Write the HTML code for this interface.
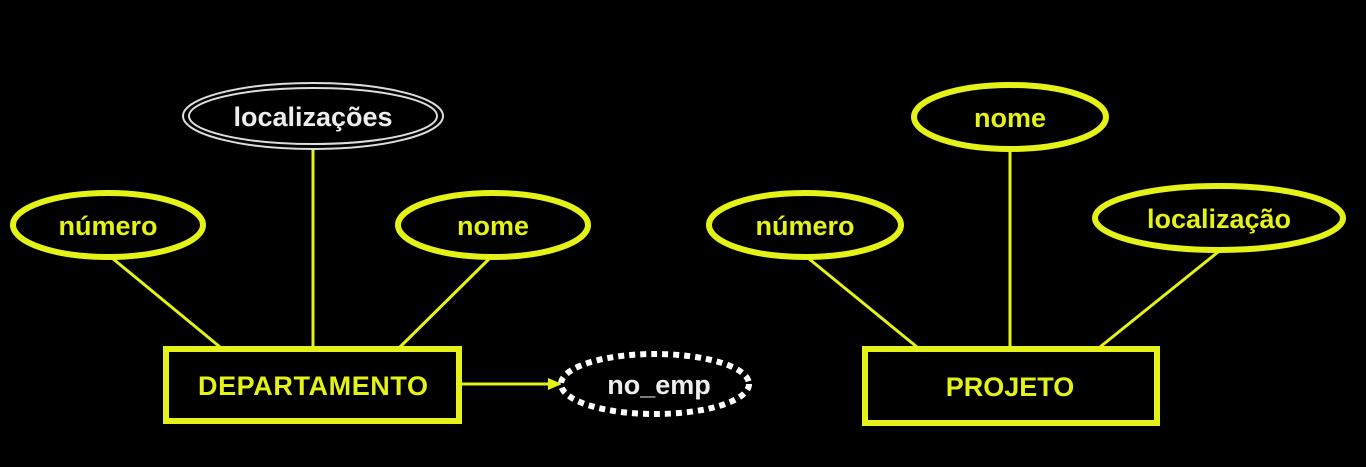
<!DOCTYPE html>
<html><head><style>
html,body{margin:0;padding:0;background:#000;width:1366px;height:467px;overflow:hidden}
text{font-family:"Liberation Sans",sans-serif;font-weight:bold;font-size:27px;text-anchor:middle;dominant-baseline:central}
</style></head><body>
<svg width="1366" height="467" viewBox="0 0 1366 467" xmlns="http://www.w3.org/2000/svg">
<g stroke="#e4f218" stroke-width="3" fill="none">
<line x1="112" y1="258" x2="220" y2="347"/>
<line x1="313" y1="148" x2="313" y2="347"/>
<line x1="490" y1="258" x2="400" y2="347"/>
<line x1="461" y1="384" x2="550" y2="384"/>
<line x1="808" y1="258" x2="917" y2="347"/>
<line x1="1010" y1="150" x2="1010" y2="347"/>
<line x1="1218" y1="252" x2="1100" y2="347"/>
</g>
<polygon points="548,378 562,384 548,390" fill="#e4f218"/>
<g stroke="#e4f218" stroke-width="6" fill="#000">
<ellipse cx="108" cy="225" rx="95" ry="32"/>
<ellipse cx="493" cy="225" rx="95" ry="32"/>
<ellipse cx="1010" cy="117" rx="96" ry="32"/>
<ellipse cx="805" cy="225" rx="96" ry="32"/>
<ellipse cx="1219" cy="218" rx="124" ry="32"/>
<rect x="166" y="349" width="293" height="72"/>
<rect x="865" y="349" width="292" height="74"/>
</g>
<ellipse cx="313" cy="116" rx="130" ry="33" stroke="#ddd" stroke-width="2" fill="#000"/>
<ellipse cx="313" cy="116" rx="124" ry="28" stroke="#ddd" stroke-width="2" fill="none"/>
<ellipse cx="655" cy="384" rx="94" ry="30" stroke="#fff" stroke-width="6" stroke-dasharray="6 5" fill="#000"/>
<g fill="#e4f218" style="font-size:26px">
<text x="108" y="226">número</text>
<text x="493" y="226">nome</text>
<text x="313" y="386" textLength="230">DEPARTAMENTO</text>
<text x="1010" y="118">nome</text>
<text x="805" y="226">número</text>
<text x="1219" y="219">localização</text>
<text x="1010" y="387">PROJETO</text>
</g>
<g fill="#eee" style="font-size:25px">
<text x="313" y="117">localizações</text>
<text x="659" y="385">no_emp</text>
</g>
</svg>
</body></html>
